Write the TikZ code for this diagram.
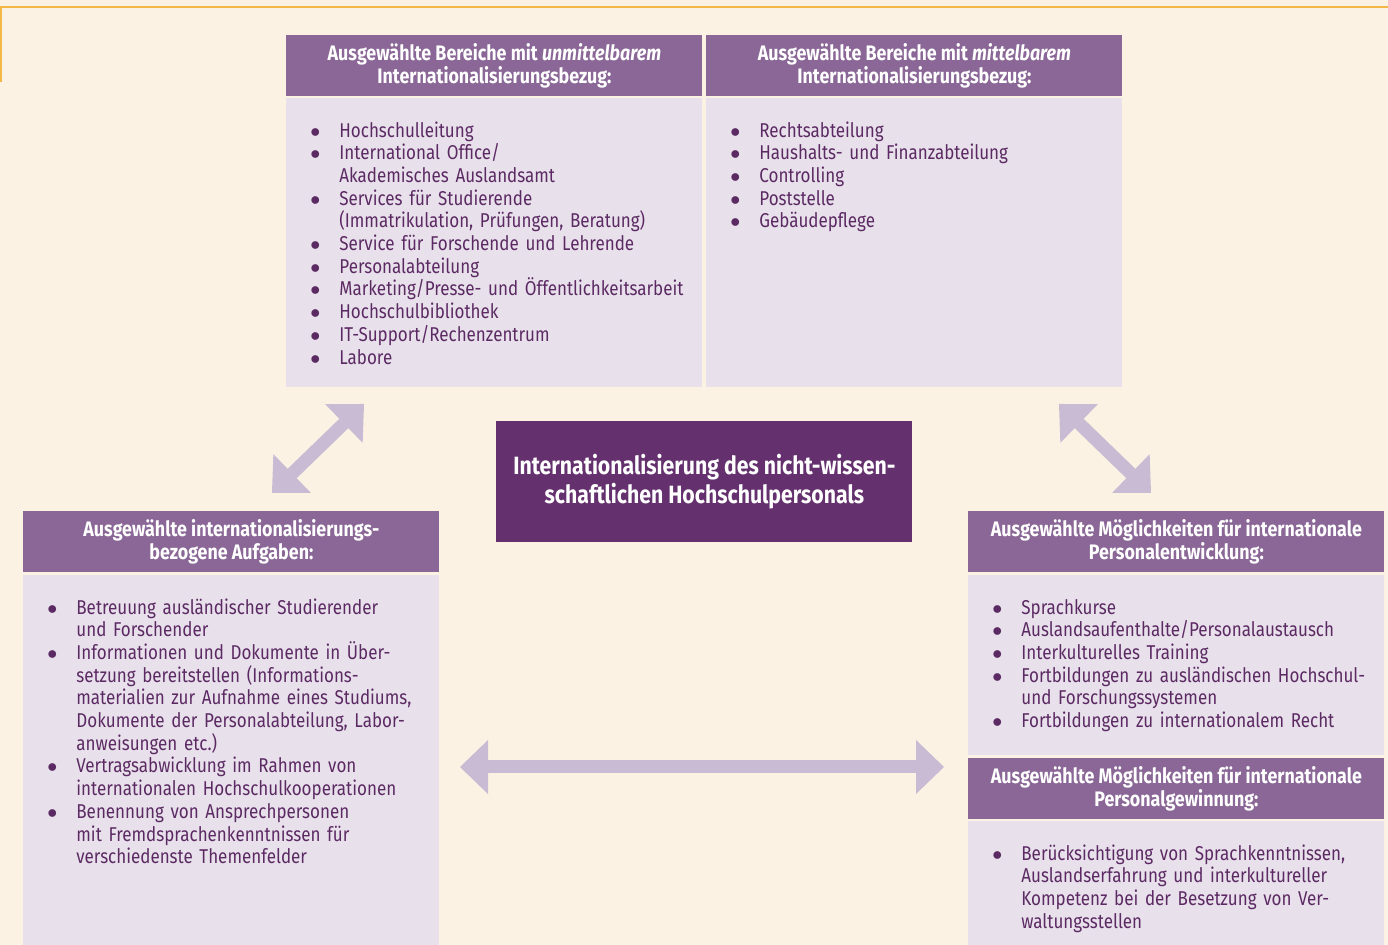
\documentclass[tikz,border=0pt]{standalone}
\usepackage{fontspec}
\setmainfont{Fira Sans}[FakeStretch=0.85]
\usetikzlibrary{arrows.meta, positioning}
\definecolor{hsbg}{HTML}{FCF2E3}
\definecolor{hsorange}{HTML}{F2B744}
\definecolor{hshead}{HTML}{8A6796}
\definecolor{hsbody}{HTML}{E8E1EC}
\definecolor{hsdeep}{HTML}{64306E}
\definecolor{hsarrow}{HTML}{C9BBD4}
\definecolor{hstext}{HTML}{5C2A63}
% one bullet point with hanging indent
\newcommand{\bpt}{\par\hangindent=14.5pt\hangafter=1\noindent\makebox[14.5pt][l]{$\bullet$}}

\begin{document}
\begin{tikzpicture}[x=0.5pt, y=-0.5pt, line join=miter,
    headbox/.style={fill=hshead, text=white, font=\bfseries\fontsize{10.5}{11.2}\selectfont,
                    align=center, minimum width=208pt, minimum height=30.5pt,
                    inner sep=0pt, anchor=north west},
    bodybox/.style={fill=hsbody, minimum width=208pt, inner sep=0pt, anchor=north west},
    listtext/.style={text=hstext, font=\fontsize{10}{11.35}\selectfont, text width=195pt,
                     align=left, inner sep=0pt, anchor=north west},
    centrebox/.style={fill=hsdeep, text=white, font=\bfseries\fontsize{12.5}{14.5}\selectfont,
                      align=center, minimum width=208pt, minimum height=60.5pt,
                      inner sep=0pt, anchor=north west},
    biarrow/.style={draw=hsarrow, line width=6.5pt,
                    {Triangle[length=14pt, width=27pt, line width=0pt]}-{Triangle[length=14pt, width=27pt, line width=0pt]}}]
  \useasboundingbox (0,0) rectangle (1388,945);
  \fill[hsbg] (0,0) rectangle (1388,945);
  \draw[hsorange, line width=1pt] (1,82) -- (1,7) -- (1388,7);

  % (1) top row
  \node[headbox] (tlhead) at (286,35) {Ausgewählte Bereiche mit \textit{unmittelbarem}\\Internationalisierungsbezug:};
  \node[bodybox, minimum height=144.5pt] (tlbody) at (286,98) {};
  \node[listtext, below right=8pt and 12pt of tlbody.north west] (tllist) {%
    \bpt Hochschulleitung
    \bpt International Office/\newline Akademisches Auslandsamt
    \bpt Services für Studierende\newline (Immatrikulation, Prüfungen, Beratung)
    \bpt Service für Forschende und Lehrende
    \bpt Personalabteilung
    \bpt Marketing/Presse- und Öffentlichkeitsarbeit
    \bpt Hochschulbibliothek
    \bpt IT-Support/Rechenzentrum
    \bpt Labore\par};

  \node[headbox] (trhead) at (706,35) {Ausgewählte Bereiche mit \textit{mittelbarem}\\Internationalisierungsbezug:};
  \node[bodybox, minimum height=144.5pt] (trbody) at (706,98) {};
  \node[listtext, below right=8pt and 12pt of trbody.north west] (trlist) {%
    \bpt Rechtsabteilung
    \bpt Haushalts- und Finanzabteilung
    \bpt Controlling
    \bpt Poststelle
    \bpt Gebäudepflege\par};

  % (2) centre
  \node[centrebox] (centre) at (496,421) {Internationalisierung des nicht-wissen-\\schaftlichen Hochschulpersonals};

  % (3) bottom left
  \node[headbox] (blhead) at (23,511) {Ausgewählte internationalisierungs-\\bezogene Aufgaben:};
  \node[bodybox, minimum height=185pt] (blbody) at (23,575) {};
  \node[listtext, below right=8pt and 12pt of blbody.north west] (bllist) {%
    \bpt Betreuung ausländischer Studierender\newline und Forschender
    \bpt Informationen und Dokumente in Über-\newline setzung bereitstellen (Informations-\newline materialien zur Aufnahme eines Studiums,\newline Dokumente der Personalabteilung, Labor-\newline anweisungen etc.)
    \bpt Vertragsabwicklung im Rahmen von\newline internationalen Hochschulkooperationen
    \bpt Benennung von Ansprechpersonen\newline mit Fremdsprachenkenntnissen für\newline verschiedenste Themenfelder\par};

  % (4) bottom right
  \node[headbox] (rdhead) at (968,511) {Ausgewählte Möglichkeiten für internationale\\Personalentwicklung:};
  \node[bodybox, minimum height=90pt] (rdbody) at (968,575) {};
  \node[listtext, below right=8pt and 12pt of rdbody.north west] (rdlist) {%
    \bpt Sprachkurse
    \bpt Auslandsaufenthalte/Personalaustausch
    \bpt Interkulturelles Training
    \bpt Fortbildungen zu ausländischen Hochschul-\newline und Forschungssystemen
    \bpt Fortbildungen zu internationalem Recht\par};

  \node[headbox] (rghead) at (968,758) {Ausgewählte Möglichkeiten für internationale\\Personalgewinnung:};
  \node[bodybox, minimum height=62pt] (rgbody) at (968,821) {};
  \node[listtext, below right=8pt and 12pt of rgbody.north west] (rglist) {%
    \bpt Berücksichtigung von Sprachkenntnissen,\newline Auslandserfahrung und interkultureller\newline Kompetenz bei der Besetzung von Ver-\newline waltungsstellen\par};

  % arrows
  \coordinate (tlarr) at (364,404);
  \coordinate (blarr) at (272,493);
  \coordinate (trarr) at (1059,404);
  \coordinate (brarr) at (1151,493);
  \coordinate (lharr) at (460,767);
  \coordinate (rharr) at (944,767);
  \draw[biarrow] (blarr) -- (tlarr);
  \draw[biarrow] (trarr) -- (brarr);
  \draw[biarrow] (lharr) -- (rharr);
\end{tikzpicture}
\end{document}
